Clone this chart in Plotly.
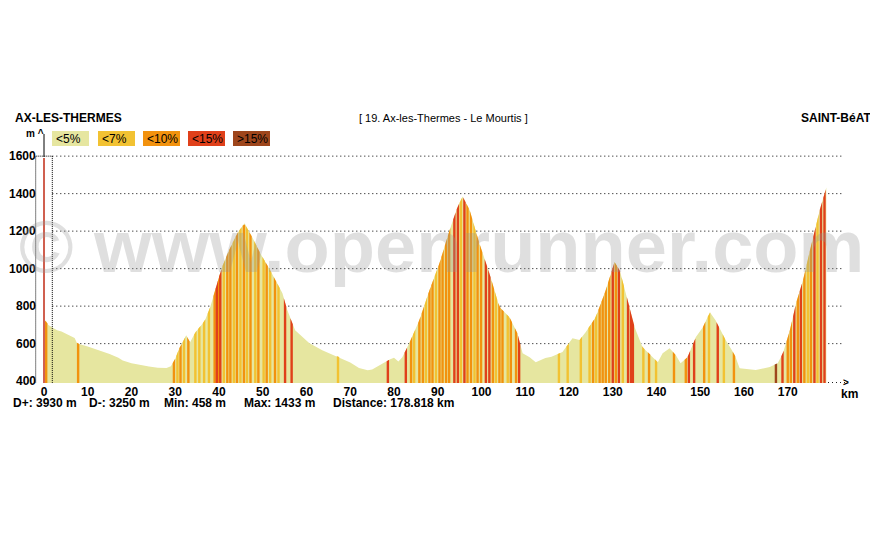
import numpy as np
import plotly.graph_objects as go

# ---------------- data ----------------
dist_km = [0, 0.5, 1, 2, 3, 4, 5, 6, 7, 7.5, 8, 10, 12, 14, 15, 17, 18, 20, 22, 24, 26, 28, 29,
           30, 31, 31.6, 32.5, 33.4, 34.6, 36, 36.8, 38, 39.1, 40.7, 42.3, 44.2, 45.8, 47.6, 49.4,
           51.7, 54.5, 55.6, 57.4, 60.6, 63.6, 67.5, 70, 72, 74, 75, 77, 79, 80, 81, 81.9, 83.5,
           85.8, 88.1, 90.4, 92.7, 94.5, 95.7, 97.3, 99.5, 101.8, 104.1, 106.4, 108.2, 109.4, 111,
           112.4, 114.6, 116, 118.5, 120.8, 122.4, 123.8, 126.1, 128.4, 130.4, 131.6, 133, 135,
           136.8, 138.7, 140.3, 141.4, 143, 144.4, 145.5, 147.1, 149, 150.6, 152.2, 153.5, 155.8,
           157.9, 159, 162.7, 165.9, 167.7, 168.9, 170.5, 171.9, 173.5, 175.1, 177.3, 178.818]
elev_m = [725, 720, 700, 685, 672, 665, 652, 640, 630, 605, 598, 585, 570, 555, 545, 525, 510, 495,
          485, 478, 472, 470, 480, 520, 580, 603, 645, 608, 661, 700, 725, 795, 885, 1008, 1098,
          1189, 1242, 1168, 1083, 992, 869, 779, 672, 603, 565, 528, 500, 470, 458, 462, 490, 515,
          525, 505, 528, 603, 725, 885, 1029, 1205, 1328, 1385, 1312, 1136, 976, 795, 741, 656, 549,
          528, 501, 523, 530, 555, 629, 619, 661, 741, 885, 1035, 992, 869, 688, 581, 539, 501, 549,
          576, 539, 496, 528, 635, 688, 768, 725, 619, 539, 469, 459, 475, 496, 549, 672, 816, 939,
          1100, 1312, 1433]

# gradient stripes: position (km) and class (1:<7%, 2:<10%, 3:<15%, 4:>15%)
stripe_km = [0.5, 7.8, 29.7, 30.5, 31.2, 32.0, 33.0, 34.6, 35.5,
             36.6, 37.7, 39.0, 39.5, 40.0, 40.3, 41.1, 41.9, 42.6, 43.4, 44.1, 44.9, 45.7, 46.4,
             47.2, 48.3, 49.0, 50.2, 50.9, 51.7, 52.8, 53.6, 55.1, 56.6, 67.2, 78.6,
             82.7, 83.9, 84.6, 85.8, 86.6, 87.3, 88.1, 88.8, 89.6, 90.4, 91.1, 91.9, 92.6, 93.8,
             94.6, 95.3, 96.1, 96.8, 97.6, 98.4, 99.1, 99.9, 101.0, 101.8, 102.6, 103.3, 104.1,
             104.8, 106.0, 106.7, 107.9, 108.6, 117.7,
             119.7, 122.7, 124.7, 125.5, 126.2, 127.0, 127.7, 128.4, 129.2, 130.0, 130.7, 131.4,
             132.3, 133.5, 134.2, 134.6, 137.0, 138.3, 139.9, 144.0, 146.7, 147.4, 148.6, 150.9,
             152.0, 154.0, 155.4, 157.7,
             167.3, 168.8, 170.0, 170.7, 171.5, 172.3, 173.0, 173.8, 174.6, 175.3, 176.1, 176.8,
             177.6, 178.4]
stripe_cls = [2, 2, 2, 1, 2, 1, 2, 1, 1,
              1, 1, 2, 3, 2, 3, 1, 2, 2, 1, 2, 1, 2, 1,
              2, 1, 2, 1, 2, 1, 2, 1, 3, 3, 1, 3,
              3, 2, 1, 2, 2, 1, 2, 2, 1, 2, 2, 2, 2, 3,
              3, 1, 3, 2, 2, 1, 2, 2, 3, 3, 2, 1, 2,
              2, 1, 2, 2, 3, 1,
              1, 1, 1, 2, 1, 2, 2, 2, 2, 3, 2, 3,
              1, 3, 3, 3, 1, 2, 1, 2, 2, 3, 3, 2,
              1, 3, 1, 2,
              4, 3, 2, 2, 3, 2, 3, 2, 1, 2, 3, 1,
              3, 3]

class_labels = ["<5%", "<7%", "<10%", "<15%", ">15%"]
class_colors = ["#e6e6a0", "#f2c232", "#f2920e", "#e0401a", "#9e461c"]

y_ticks = [400, 600, 800, 1000, 1200, 1400, 1600]
x_ticks = list(range(0, 180, 10))

start_name = "AX-LES-THERMES"
end_name = "SAINT-BéAT"
stage_title = "[ 19. Ax-les-Thermes - Le Mourtis ]"
stats = ["D+: 3930 m", "D-: 3250 m", "Min: 458 m", "Max: 1433 m", "Distance: 178.818 km"]

# ---------------- layout geometry ----------------
# the page body has an 8px margin, so the figure is drawn 8px in from the window corner
OFF = 8
W, H = 870, 532
L, R, T, B = 34, 849, 136, 383          # plot area in window pixels
XR = [-2.286, 184]
YR = [390, 390 + (B - T) / 0.1875]
FONT = "Liberation Sans, Arial, sans-serif"
BASE = 390
SW = 0.55  # stripe width in km


def px(p):
    return (p - L) / (R - L)


def py(p):
    return (B - p) / (B - T)


fig = go.Figure()

# base profile (pale)
fig.add_trace(go.Scatter(x=[dist_km[0]] + dist_km + [dist_km[-1]],
                         y=[BASE] + elev_m + [BASE],
                         fill="toself", fillcolor=class_colors[0], mode="lines",
                         line=dict(width=0, color=class_colors[0]), hoverinfo="skip",
                         showlegend=False))

# stripes per class
sk = np.array(stripe_km)
sc = np.array(stripe_cls)
for c in range(1, 5):
    xs, ys = [], []
    for k in sk[sc == c]:
        a, b = k - SW / 2, min(k + SW / 2, dist_km[-1])
        ea, eb = np.interp([a, b], dist_km, elev_m)
        xs += [a, a, b, b, a, None]
        ys += [BASE, ea, eb, BASE, BASE, None]
    fig.add_trace(go.Scatter(x=xs, y=ys, fill="toself", fillcolor=class_colors[c],
                             mode="lines", line=dict(width=0, color=class_colors[c]),
                             hoverinfo="skip", showlegend=False))

shapes = []
for v in y_ticks[1:]:
    shapes.append(dict(type="line", xref="x", yref="y", x0=1.9, x1=182.5, y0=v, y1=v,
                       line=dict(color="black", width=1, dash="1px,3px"), layer="below"))
shapes.append(dict(type="line", xref="x", yref="y", x0=0, x1=183.5, y0=BASE + 2, y1=BASE + 2,
                   line=dict(color="black", width=1, dash="1px,3px"), layer="below"))
shapes.append(dict(type="rect", xref="x", yref="y", x0=-1.9, x1=1.9, y0=BASE - 8, y1=1600,
                   line=dict(color="black", width=1, dash="1px,1px"), layer="above"))
shapes.append(dict(type="line", xref="x", yref="y", x0=0, x1=0, y0=BASE - 8, y1=1590,
                   line=dict(color="#d06050", width=2), layer="above"))
shapes.append(dict(type="line", xref="paper", yref="paper", x0=px(44), x1=px(44),
                   y0=py(157), y1=py(134), line=dict(color="black", width=1)))
box_x = [52, 98, 143, 188, 233]
for i, (lab, col) in enumerate(zip(class_labels, class_colors)):
    shapes.append(dict(type="rect", xref="paper", yref="paper", x0=px(box_x[i]),
                       x1=px(box_x[i] + 37), y0=py(146), y1=py(131),
                       fillcolor=col, line=dict(width=0)))

ann = []
for i, lab in enumerate(class_labels):
    ann.append(dict(xref="paper", yref="paper", x=px(box_x[i] + 3), y=py(139), text=lab,
                    showarrow=False, xanchor="left", yanchor="middle", borderpad=0,
                    font=dict(family=FONT, size=12, color="black")))
for v in y_ticks:
    ann.append(dict(xref="paper", yref="y", x=px(37), y=v, text="<b>%d</b>" % v,
                    showarrow=False, xanchor="right", yanchor="middle", borderpad=0,
                    font=dict(family=FONT, size=12, color="black")))
ann.append(dict(xref="paper", yref="paper", x=px(45), y=py(134), text="<b>m ^</b>",
                showarrow=False, xanchor="right", yanchor="middle", borderpad=0,
                font=dict(family=FONT, size=10, color="black")))
ann.append(dict(xref="paper", yref="paper", x=px(850), y=py(382), text="<b>></b>",
                showarrow=False, xanchor="right", yanchor="middle", borderpad=0,
                font=dict(family=FONT, size=10, color="black")))
ann.append(dict(xref="paper", yref="paper", x=px(849), y=py(394), text="<b>km</b>",
                showarrow=False, xanchor="center", yanchor="middle", borderpad=0,
                font=dict(family=FONT, size=12, color="black")))
ann.append(dict(xref="paper", yref="paper", x=px(14), y=py(118), text="<b>%s</b>" % start_name,
                showarrow=False, xanchor="left", yanchor="middle", borderpad=0,
                font=dict(family=FONT, size=12, color="black")))
ann.append(dict(xref="paper", yref="paper", x=px(872), y=py(118), text="<b>%s</b>" % end_name,
                showarrow=False, xanchor="right", yanchor="middle", borderpad=0,
                font=dict(family=FONT, size=12, color="black")))
ann.append(dict(xref="paper", yref="paper", x=px(443), y=py(118), text=stage_title,
                showarrow=False, xanchor="center", yanchor="middle", borderpad=0,
                font=dict(family=FONT, size=11, color="black")))
stat_x = [12, 88, 163, 243, 332]
for sx, s in zip(stat_x, stats):
    ann.append(dict(xref="paper", yref="paper", x=px(sx), y=py(403), text="<b>%s</b>" % s,
                    showarrow=False, xanchor="left", yanchor="middle", borderpad=0,
                    font=dict(family=FONT, size=12, color="black")))
ann.append(dict(xref="paper", yref="paper", x=px(441), y=py(246),
                text="<b>© www.openrunner.com</b>", showarrow=False,
                xanchor="center", yanchor="middle", borderpad=0,
                font=dict(family=FONT, size=74, color="rgba(150,150,150,0.30)")))

fig.update_layout(
    width=W, height=H,
    margin=dict(l=L - OFF, r=W - (R - OFF), t=T - OFF, b=H - (B - OFF), pad=0),
    paper_bgcolor="white", plot_bgcolor="white", showlegend=False,
    shapes=shapes, annotations=ann,
    xaxis=dict(range=XR, tickvals=x_ticks, ticktext=["<b>%d</b>" % v for v in x_ticks],
               showgrid=False, zeroline=False, showline=False, ticks="",
               tickfont=dict(family=FONT, size=12, color="black")),
    yaxis=dict(range=YR, showgrid=False, zeroline=False, showline=False,
               showticklabels=False, ticks=""),
)

fig.write_html("out.html")
